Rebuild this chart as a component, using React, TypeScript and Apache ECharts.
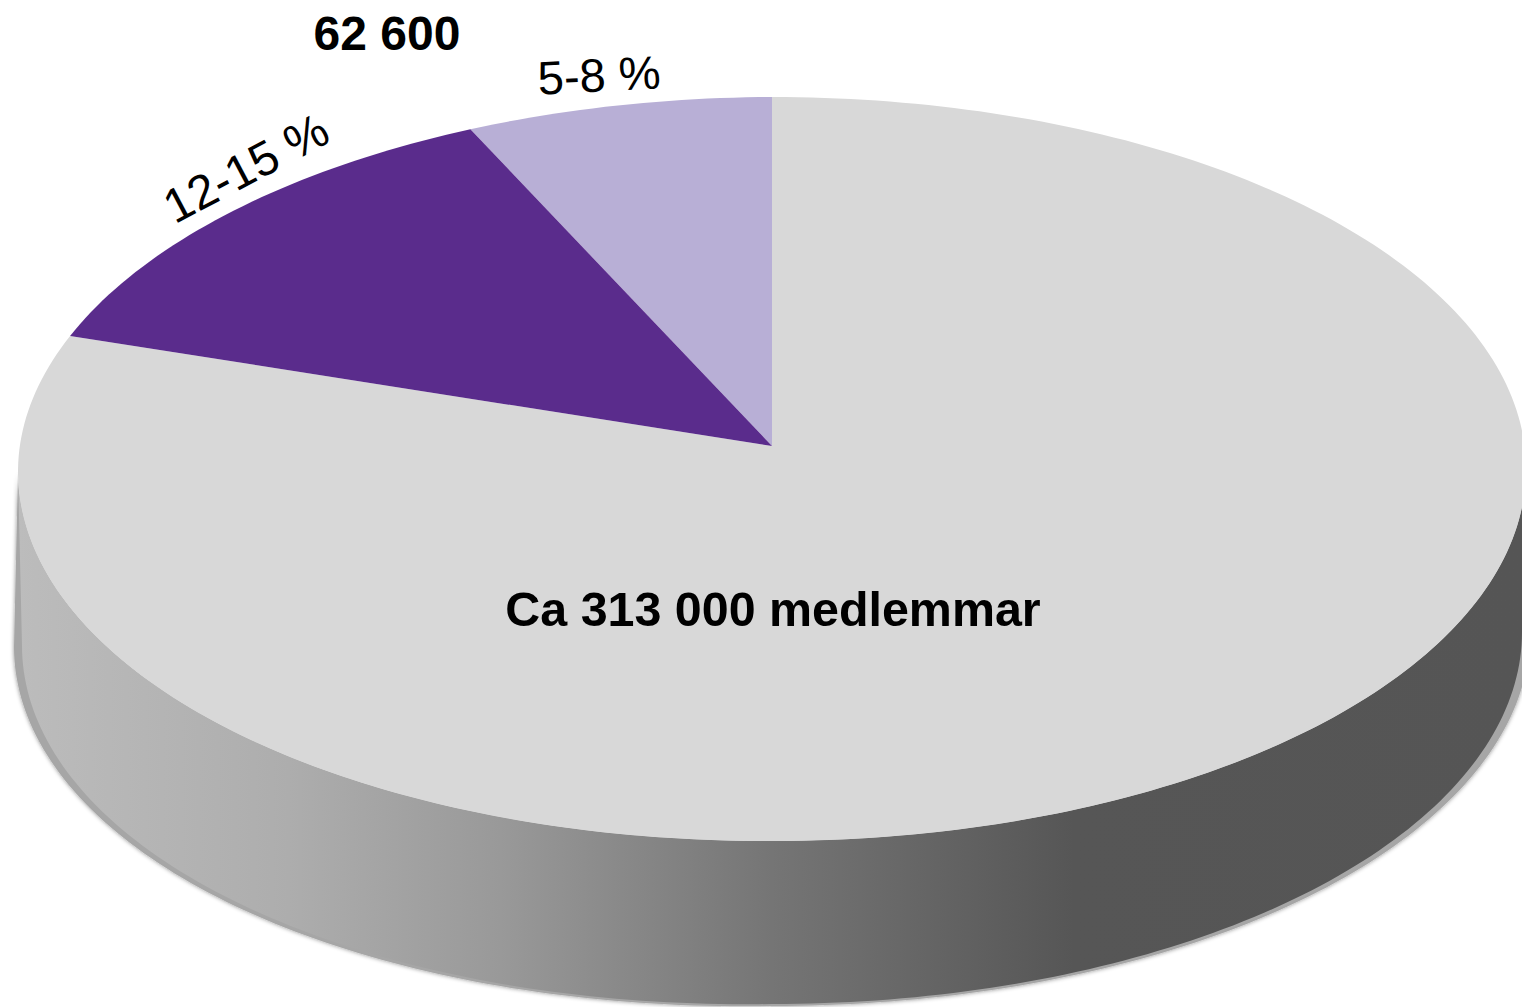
import React, { useEffect, useRef } from "react";
import * as echarts from "echarts";

const categories = ["5-8 %", "12-15 %", "Ca 313 000 medlemmar"];
const shares = [6.55, 12.5, 80.95];
const sliceColors = ["#b8afd6", "#5a2c8c", "#d8d8d8"];
const totalLabel = "62 600";

const FONT = "'Liberation Sans', Arial, sans-serif";
const top = { cx: 772, cy: 469, rx: 754, ry: 372, lean: 0.004 };
const bottom = { cx: 772, cy: 632, rx: 750, ry: 372, lean: 0.018 };
const rim = { cx: 772, cy: 633, rx: 758, ry: 373, lean: 0.018 };
const apex = [772, 446];
const total = shares.reduce((a, b) => a + b, 0);

const ellipsePoint = (e: typeof top, deg: number) => {
  const t = (deg * Math.PI) / 180;
  const x = e.cx - e.rx * Math.sin(t);
  const y = e.cy - e.ry * Math.cos(t) + (x < e.cx ? e.lean * (e.cx - x) : 0);
  return [x, y];
};
const arc = (e: typeof top, from: number, to: number) => {
  const n = Math.max(2, Math.ceil(Math.abs(to - from)));
  const pts: number[][] = [];
  for (let i = 0; i <= n; i++) pts.push(ellipsePoint(e, from + ((to - from) * i) / n));
  return pts;
};

const renderItem = (params: any, api: any) => {
  const idx = params.dataIndex;
  let start = 0;
  for (let i = 0; i < idx; i++) start += shares[i];
  const a0 = (start / total) * 360;
  const a1 = ((start + api.value(0)) / total) * 360;
  const children: any[] = [];
  if (idx === 0) {
    children.push({
      type: "polygon",
      shape: { points: [...arc(top, 90, 270), ...arc(rim, 270, 90)] },
      style: { fill: "#a6a6a6", shadowColor: "rgba(0,0,0,0.45)", shadowBlur: 4 },
    });
    children.push({
      type: "polygon",
      shape: { points: [...arc(top, 90, 270), ...arc(bottom, 270, 90)] },
      style: {
        fill: new echarts.graphic.LinearGradient(0, 0, 1, 0, [
          { offset: 0, color: "#bcbcbc" },
          { offset: 0.18, color: "#adadad" },
          { offset: 0.32, color: "#999999" },
          { offset: 0.5, color: "#757575" },
          { offset: 0.7, color: "#565656" },
          { offset: 1, color: "#555555" },
        ]),
      },
    });
    // Gray wedge is painted first so that the coloured wedges sit cleanly over it.
    children.push({
      type: "polygon",
      shape: { points: [apex, ...arc(top, ((shares[0] + shares[1]) / total) * 360, 360)] },
      style: { fill: sliceColors[2] },
    });
  }
  if (idx < 2) {
    children.push({
      type: "polygon",
      shape: { points: [apex, ...arc(top, a0, a1)] },
      style: { fill: sliceColors[idx] },
    });
  }
  return { type: "group", children };
};

const App = () => {
  const ref = useRef<HTMLDivElement>(null);
  useEffect(() => {
    document.body.style.margin = "0";
    document.body.style.overflow = "hidden";
    const chart = echarts.init(ref.current!, null, { renderer: "svg" });
    const label = (text: string, x: number, y: number, rot: number, bold: boolean, size: number) => ({
      type: "text",
      x,
      y,
      rotation: (rot * Math.PI) / 180,
      z: 10,
      style: {
        text,
        x: 0,
        y: 0,
        align: "center",
        verticalAlign: "middle",
        fill: "#000000",
        font: `${bold ? "bold " : ""}${size}px ${FONT}`,
      },
    });
    chart.setOption({
      animation: false,
      backgroundColor: "#ffffff",
      series: [
        {
          type: "custom",
          coordinateSystem: "none",
          silent: true,
          renderItem,
          data: shares.map((v) => [v]),
        },
      ],
      graphic: [
        label(totalLabel, 387, 33, 0, true, 48),
        label(categories[0], 599, 75, 3, false, 47),
        label(categories[1], 246, 168, 28, false, 48),
        label(categories[2], 773, 609, 0, true, 48.4),
      ],
    });
    return () => chart.dispose();
  }, []);
  return <div ref={ref} style={{ position: "absolute", left: 0, top: 0, width: 1522, height: 1007 }} />;
};

export default App;
